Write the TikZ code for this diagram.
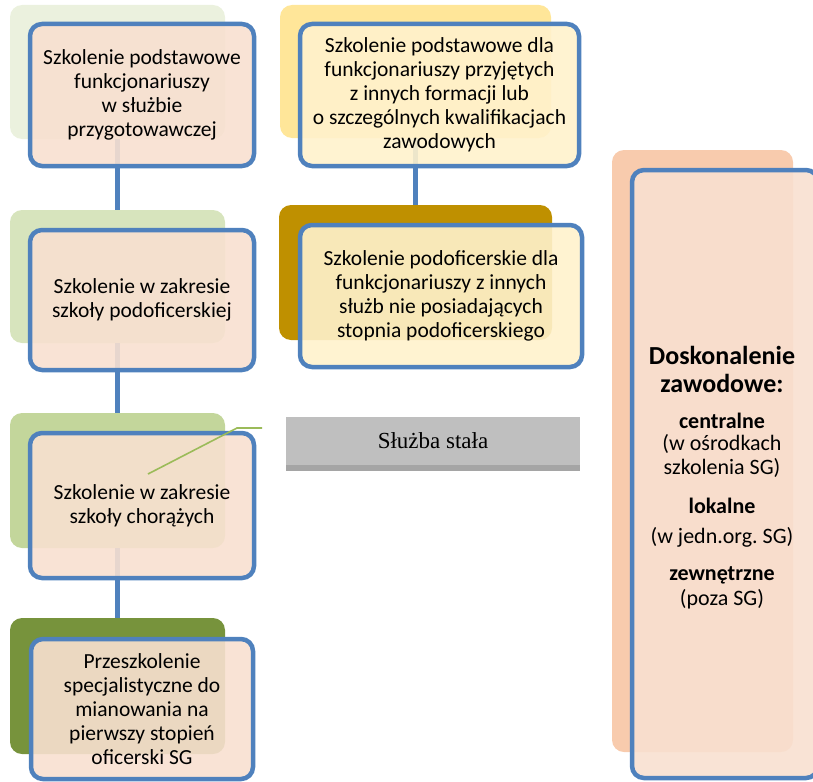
\documentclass[tikz,border=0pt]{standalone}
\usepackage{fontspec}
\setmainfont{Carlito}
\newfontfamily\timesf{Liberation Serif}
\frenchspacing
\definecolor{bordblue}{HTML}{4F81BD}
\definecolor{peach}{HTML}{F8E0D0}
\definecolor{cream}{HTML}{FFF2CC}
\definecolor{bk1}{HTML}{EBF1DE}
\definecolor{bk2}{HTML}{D7E4BD}
\definecolor{bk3}{HTML}{C3D69B}
\definecolor{bk4}{HTML}{77933C}
\definecolor{bk5}{HTML}{FFE699}
\definecolor{bk6}{HTML}{BF9000}
\definecolor{bk7}{HTML}{F8CBAD}
\definecolor{grayfill}{HTML}{BFBFBF}
\definecolor{graydark}{HTML}{A5A5A5}
\definecolor{leaderg}{HTML}{9BBB59}
\begin{document}
\begin{tikzpicture}[x=1pt,y=-1pt,
  backbox/.style={rectangle,rounded corners=12pt,draw=none,inner sep=0pt},
  frontbox/.style={rectangle,rounded corners=12pt,draw=bordblue,line width=4.5pt,
     fill opacity=0.9,text opacity=1,inner sep=0pt,align=center,
     font=\fontsize{21.5}{24}\selectfont},
  conn/.style={draw=bordblue,line width=5pt},
  heading/.style={font=\fontsize{26}{30}\selectfont\bfseries},
  subhead/.style={font=\fontsize{22}{25}\selectfont\bfseries},
  plain/.style={font=\fontsize{22}{25}\selectfont}]
\useasboundingbox (0,0) rectangle (813,781);
% back boxes
\node[backbox,fill=bk1,minimum width=215pt,minimum height=134pt] (b1back) at (117.5,72) {};
\node[backbox,fill=bk2,minimum width=215pt,minimum height=133pt] (b2back) at (117.5,276.5) {};
\node[backbox,fill=bk3,minimum width=215pt,minimum height=135pt] (b3back) at (117.5,480.5) {};
\node[backbox,fill=bk4,minimum width=215pt,minimum height=136pt] (b4back) at (117.5,686) {};
\node[backbox,fill=bk5,minimum width=271pt,minimum height=133pt] (b5back) at (415.5,71.5) {};
\node[backbox,fill=bk6,minimum width=273pt,minimum height=135pt] (b6back) at (415.5,272.5) {};
\node[backbox,fill=bk7,minimum width=181pt,minimum height=602pt] (b7back) at (702.5,451) {};
% connectors
\draw[conn] (b1back.south) -- (b2back.north);
\draw[conn] (b2back.south) -- (b3back.north);
\draw[conn] (b3back.south) -- (b4back.north);
\draw[conn] (b5back.south) -- (b6back.north);
% front boxes
\node[frontbox,fill=peach,minimum width=224pt,minimum height=142pt] (b1) at (142,95)
  {Szkolenie podstawowe\\funkcjonariuszy\\w służbie\\przygotowawczej};
\node[frontbox,fill=peach,minimum width=224pt,minimum height=140pt] (b2) at (142,300)
  {Szkolenie w zakresie\\szkoły podoficerskiej};
\node[frontbox,fill=peach,minimum width=224pt,minimum height=145pt] (b3) at (142,505.5)
  {Szkolenie w zakresie\\szkoły chorążych};
\node[frontbox,fill=peach,minimum width=222pt,minimum height=140pt] (b4) at (142,709)
  {Przeszkolenie\\specjalistyczne do\\mianowania na\\pierwszy stopień\\oficerski SG};
\node[frontbox,fill=cream,minimum width=279pt,minimum height=142pt] (b5) at (439.5,95)
  {Szkolenie podstawowe dla\\funkcjonariuszy przyjętych\\z innych formacji lub\\o szczególnych kwalifikacjach\\zawodowych};
\node[frontbox,fill=cream,minimum width=282pt,minimum height=142pt] (b6) at (441,296)
  {Szkolenie podoficerskie dla\\funkcjonariuszy z innych\\służb nie posiadających\\stopnia podoficerskiego};
\node[frontbox,fill=peach,minimum width=186pt,minimum height=608pt] (b7) at (725,474) {};
% right column text
\node[heading] (t1) at (722,355) {Doskonalenie};
\node[heading] (t2) at (722,383) {zawodowe:};
\node[subhead] (t3) at (722,421) {centralne};
\node[plain] (t4) at (722,444) {(w ośrodkach};
\node[plain] (t5) at (722,468) {szkolenia SG)};
\node[subhead] (t6) at (722,506) {lokalne};
\node[plain] (t7) at (722,537) {(w jedn.org. SG)};
\node[subhead] (t8) at (722,575) {zewnętrzne};
\node[plain] (t9) at (722,599) {(poza SG)};
% gray label
\fill[graydark] (286,417) rectangle (580,471);
\node[rectangle,fill=grayfill,minimum width=294pt,minimum height=48pt,inner sep=0pt,
  font=\timesf\fontsize{23}{27}\selectfont] (ss) at (433,441) {Służba stała};
% leader line
\coordinate (g1) at (148,474);
\coordinate (g2) at (237,428);
\coordinate (g3) at (262,428);
\draw[leaderg,line width=1.6pt] (g1) -- (g2) -- (g3);
\end{tikzpicture}
\end{document}
